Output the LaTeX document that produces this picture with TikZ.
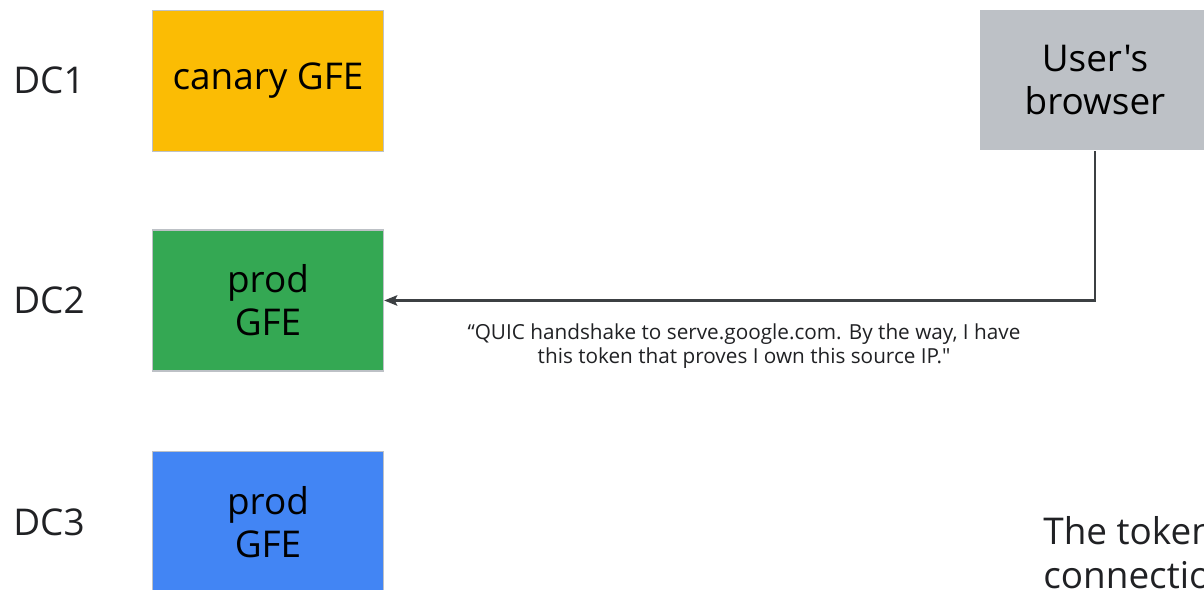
\documentclass[tikz,border=0pt]{standalone}
\usepackage{fontspec}
\usetikzlibrary{arrows.meta}
\newfontfamily\gsans{Open Sans}
\definecolor{gyellow}{HTML}{FBBC04}
\definecolor{ggreen}{HTML}{34A853}
\definecolor{gblue}{HTML}{4285F4}
\definecolor{ggrey}{HTML}{BDC1C6}
\definecolor{gline}{HTML}{3C4043}
\definecolor{gtext}{HTML}{202124}
\tikzset{
	gfe/.style={draw=ggrey, line width=0.8pt, minimum width=4.62cm, minimum height=2.82cm,
		inner sep=0pt, align=center, text=black, font=\gsans\fontsize{21}{24.4}\selectfont},
	dclabel/.style={anchor=west, inner sep=0pt, text=gtext, font=\gsans\fontsize{21}{25}\selectfont},
	caption/.style={align=center, inner sep=0pt, text=gtext, font=\gsans\fontsize{11.8}{13.6}\selectfont},
}
\begin{document}
\begin{tikzpicture}[x=0.02cm,y=-0.02cm]
		\useasboundingbox (0,0) rectangle (1204,590);
		\clip (0,0) rectangle (1204,590);
		% data centres
		\node[dclabel] (dc1) at (13,80) {DC1};
		\node[dclabel] (dc2) at (13,300) {DC2};
		\node[dclabel] (dc3) at (13,522) {DC3};
		\node[gfe, fill=gyellow] (canary) at (268,81) {canary GFE};
		\node[gfe, fill=ggreen] (prod2) at (268,300.5) {prod\\GFE};
		\node[gfe, fill=gblue] (prod3) at (268,522) {prod\\GFE};
		% client
		\node[gfe, draw=none, fill=ggrey] (browser) at (1095,80) {User's\\browser};
		\draw[gline, line width=1.2pt, -{Stealth[length=7.5pt,width=6pt,inset=1.5pt]}] (browser.south) |- (prod2.east);
		\node[caption] (quic) at (744,346) {“QUIC handshake to serve.google.com. By the way, I have\\this token that proves I own this source IP."};
		\node[dclabel, align=left] (token) at (1043,553) {The token\\connection};
	\end{tikzpicture}
\end{document}
